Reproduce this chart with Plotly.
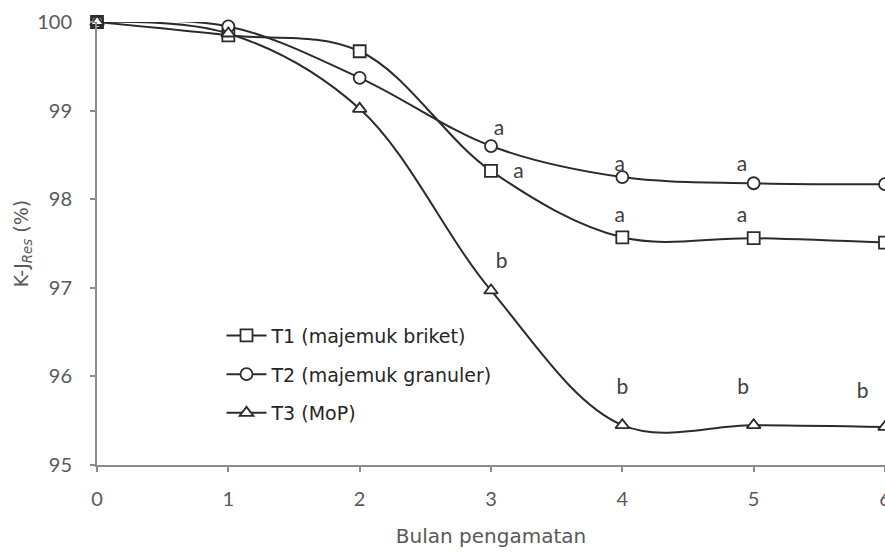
import plotly.graph_objects as go

# Observation months
months = [0, 1, 2, 3, 4, 5, 6]

# K-J_Res (%) per treatment
t1_briket = [100.0, 99.85, 99.67, 98.32, 97.57, 97.56, 97.51]
t2_granuler = [100.0, 99.95, 99.37, 98.60, 98.25, 98.18, 98.17]
t3_mop = [100.0, 99.87, 99.02, 96.97, 95.45, 95.45, 95.43]

series_names = ["T1 (majemuk briket)", "T2 (majemuk granuler)", "T3 (MoP)"]
series_symbols = ["square", "circle", "triangle-up"]
series_sizes = [12, 12, 12]

# Significance letters (text, x, y)
sig_text = ["a", "a", "b", "a", "a", "b", "a", "a", "b", "b"]
sig_x = [3.06, 3.21, 3.08, 3.98, 3.98, 4.0, 4.91, 4.91, 4.92, 5.83]
sig_y = [98.78, 98.30, 97.28, 98.38, 97.80, 95.86, 98.38, 97.80, 95.86, 95.81]

line_color = "#2b2b2b"
axis_color = "#8c8c8c"
tick_font = dict(family="Lato, Open Sans, sans-serif", size=20, color="#595959")
label_font = dict(family="DejaVu Sans, sans-serif", size=19, color="#595959")

fig = go.Figure()
for i, (name, vals, sym, sz) in enumerate(zip(series_names, [t1_briket, t2_granuler, t3_mop],
                                               series_symbols, series_sizes)):
    fig.add_trace(go.Scatter(
        x=months, y=vals, name=name, legendgroup=f"g{i}",
        mode="lines+markers", cliponaxis=False,
        line=dict(color=line_color, width=2, shape="spline", smoothing=1.0),
        marker=dict(symbol=sym, size=sz, color="white", line=dict(width=1.8, color=line_color)),
    ))

fig.add_trace(go.Scatter(
    x=sig_x, y=sig_y, mode="text", text=sig_text, showlegend=False, cliponaxis=False,
    textfont=dict(family="Lato, Open Sans, sans-serif", size=21, color="#404040"),
    hoverinfo="skip",
))

fig.update_layout(
    width=885, height=552,
    margin=dict(l=97, r=0, t=22, b=87),
    plot_bgcolor="white", paper_bgcolor="white",
    showlegend=True,
    legend=dict(
        x=0.158, y=0.335, xanchor="left", yanchor="top",
        font=dict(family="DejaVu Sans, sans-serif", size=19, color="#262626"),
        bgcolor="rgba(0,0,0,0)", tracegroupgap=11, itemwidth=40,
    ),
    xaxis=dict(
        range=[0, 6], tickvals=months, showgrid=False, zeroline=False,
        showline=True, linecolor=axis_color, linewidth=2,
        ticks="outside", ticklen=5, tickcolor=axis_color, tickwidth=1.5,
        tickfont=tick_font, ticklabelstandoff=10, ticklabeloverflow="allow",
        automargin=False,
        title=dict(text="Bulan pengamatan", font=dict(family="DejaVu Sans, sans-serif", size=20,
                                                       color="#595959"), standoff=20),
    ),
    yaxis=dict(
        range=[95, 100], tickvals=[95, 96, 97, 98, 99, 100], showgrid=False, zeroline=False,
        showline=True, linecolor=axis_color, linewidth=2,
        ticks="outside", ticklen=5, tickcolor=axis_color, tickwidth=1.5,
        tickfont=tick_font, ticklabelstandoff=14, automargin=False,
        title=dict(text="K-J<sub><i>Res</i></sub> (%)", font=label_font, standoff=4),
    ),
)

fig.write_html("out.html")
